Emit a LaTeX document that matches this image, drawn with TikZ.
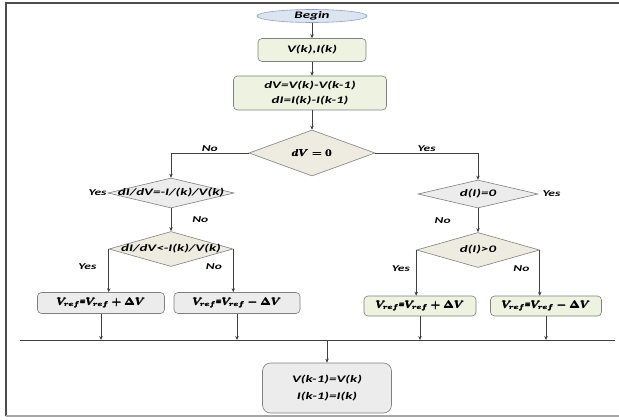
\documentclass[tikz,border=0pt]{standalone}
\usepackage{amsmath}
\usepackage{fontspec}
\setmainfont{Carlito}
\usepackage{graphicx}
\usetikzlibrary{arrows.meta,shapes.geometric}

\definecolor{linegray}{HTML}{404040}
\definecolor{bordergray}{HTML}{7F7F7F}
\definecolor{bluefill}{HTML}{DBE4F1}
\definecolor{blueborder}{HTML}{8FA3C0}
\definecolor{greenfill}{HTML}{EEF2E1}
\definecolor{beigefill}{HTML}{EEECE1}
\definecolor{grayfill}{HTML}{ECECEC}

% 横向拉宽的文字
\newcommand{\wt}[1]{\scalebox{1.5}[1]{#1}}
\newcommand{\wm}[1]{\scalebox{1.1}[1]{\boldmath\pmb{#1}}}

\begin{document}
\begin{tikzpicture}[
    x=1pt, y=-1pt,
    font=\bfseries\itshape\fontsize{10}{12}\selectfont,
    >={Stealth[length=4pt, width=3.5pt]},
    flow/.style={->, draw=linegray, line width=0.7pt},
    proc/.style={draw=bordergray, rounded corners=4pt, line width=0.6pt, inner sep=0pt},
    greenbox/.style={proc, fill=greenfill},
    graybox/.style={proc, fill=grayfill},
    cond/.style={diamond, draw=bordergray, line width=0.6pt, inner sep=0pt},
    lbl/.style={font=\bfseries\itshape\fontsize{9}{11}\selectfont, inner sep=1pt}
]
    \useasboundingbox (0,0) rectangle (619,420);

    % 外框
    \draw[line width=1.3pt, draw=black!70] (619,3) -- (6,3) -- (6,416);
    \draw[line width=1.3pt, draw=black!35] (6,416) -- (619,416);

    % 节点定义 (上部)
    \node[ellipse, draw=blueborder, fill=bluefill, line width=0.6pt, inner sep=0pt,
          minimum width=110pt, minimum height=13pt, text height=6pt, text depth=0.5pt] (begin) at (312,16) {\wt{Begin}};
    \node[greenbox, minimum width=108pt, minimum height=23pt] (vi) at (312,50) {\wt{V(k),I(k)}};
    \node[greenbox, minimum width=153pt, minimum height=34pt, align=center] (dvdi) at (310,93)
        {\wt{dV=V(k)-V(k-1)}\\[3pt]\wt{dI=I(k)-I(k-1)}};

    % 判断框
    \node[cond, fill=beigefill, minimum width=126pt, minimum height=46pt,
          label=center:{\wm{$dV=0$}}] (dv) at (312,153) {};
    \node[cond, fill=grayfill, minimum width=126pt, minimum height=30pt,
          label=center:{\wt{dI/dV=-I/(k)/V(k)}}] (c1) at (171,193) {};
    \node[cond, fill=beigefill, minimum width=124pt, minimum height=35pt,
          label=center:{\wt{dI/dV<-I(k)/V(k)}}] (c2) at (171,249) {};
    \node[cond, fill=grayfill, minimum width=120pt, minimum height=28pt,
          label=center:{\wt{d(I)=0}}] (c3) at (478,194) {};
    \node[cond, fill=beigefill, minimum width=123pt, minimum height=35pt,
          label=center:{\wt{d(I)>0}}] (c4) at (478,250) {};

    % 更新框
    \node[graybox, minimum width=127pt, minimum height=21pt] (r1) at (101,303) {\wm{$V_{ref}$=$V_{ref}+\Delta V$}};
    \node[graybox, minimum width=126pt, minimum height=21pt] (r2) at (237,303) {\wm{$V_{ref}$=$V_{ref}-\Delta V$}};
    \node[greenbox, minimum width=112pt, minimum height=20pt] (r3) at (420,306) {\wm{$V_{ref}$=$V_{ref}+\Delta V$}};
    \node[greenbox, minimum width=111pt, minimum height=20pt] (r4) at (546,306) {\wm{$V_{ref}$=$V_{ref}-\Delta V$}};
    \node[graybox, rounded corners=8pt, minimum width=129pt, minimum height=50pt, align=center] (fin) at (327,388)
        {\wt{V(k-1)=V(k)}\\[5pt]\wt{I(k-1)=I(k)}};

    % 汇合线
    \coordinate (busL) at (20,340);
    \coordinate (busR) at (615,340);
    \coordinate (busM) at (327,340);

    % 1. 主干
    \draw[flow] (begin.south) -- (vi.north);
    \draw[flow] (vi.south) -- (vi.south |- dvdi.north);
    \draw[flow] (dvdi.south -| dv.north) -- (dv.north);

    % 2. dV=0 两侧分支
    \draw[flow] (dv.west) -| node[lbl, above, pos=0.25] (no0) {\wt{No}} (c1.north);
    \draw[flow] (dv.east) -| node[lbl, above, pos=0.25] (yes0) {\wt{Yes}} (c3.north);

    % 3. 左侧
    \node[lbl, anchor=east] (yes1) at (c1.west) {\wt{Yes}};
    \draw[flow] (c1.south) -- node[lbl, right=20pt] (no1) {\wt{No}} (c2.north);
    \draw[flow] (c2.west) -- node[lbl, left=11pt, pos=0.4] (yes2) {\wt{Yes}} (c2.west |- r1.north);
    \draw[flow] (c2.east) -- node[lbl, left=10pt, pos=0.4] (no2) {\wt{No}} (c2.east |- r2.north);

    % 4. 右侧
    \node[lbl, anchor=west, xshift=3pt] (yes3) at (c3.east) {\wt{Yes}};
    \draw[flow] (c3.south) -- node[lbl, left=26pt] (no3) {\wt{No}} (c4.north);
    \draw[flow] (c4.west) -- node[lbl, left=5pt, pos=0.4] (yes4) {\wt{Yes}} (c4.west |- r3.north);
    \draw[flow] (c4.east) -- node[lbl, left=9pt, pos=0.4] (no4) {\wt{No}} (c4.east |- r4.north);

    % 5. 汇合
    \draw[draw=linegray, line width=0.7pt] (busL) -- (busR);
    \foreach \b in {r1,r2,r3,r4}
        \draw[flow] (\b.south) -- (\b.south |- busL);
    \draw[flow] (busM) -- (fin.north);

\end{tikzpicture}
\end{document}
